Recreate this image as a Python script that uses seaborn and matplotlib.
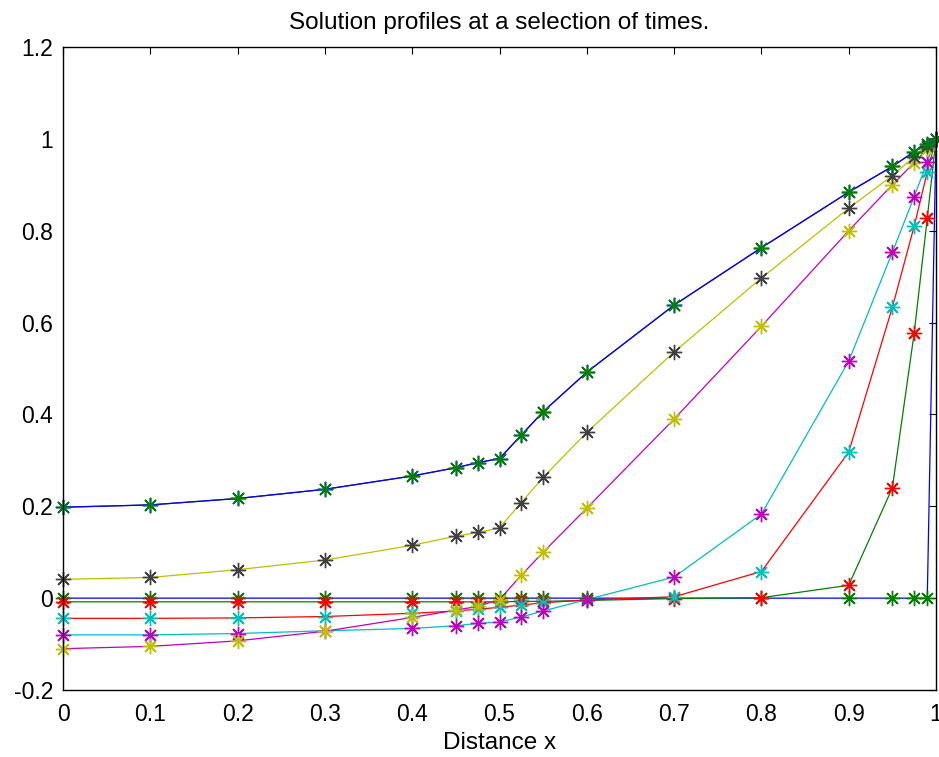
import numpy as np
import pandas as pd
import matplotlib
matplotlib.use('Agg')
import matplotlib.pyplot as plt
import seaborn as sns
from matplotlib.ticker import FuncFormatter

# malha em x e perfis da solucao em alguns instantes
x = [0, 0.1, 0.2, 0.3, 0.4, 0.45, 0.475, 0.5, 0.525, 0.55, 0.6, 0.7, 0.8, 0.9, 0.95, 0.975, 0.99, 1.0]

u1 = [0, 0, 0, 0, 0, 0, 0, 0, 0, 0, 0, 0, 0, 0, 0, 0, 0, 1.0]
u2 = [-0.008, -0.008, -0.008, -0.008, -0.008, -0.008, -0.008, -0.008, -0.007, -0.007,
      -0.005, -0.001, 0.001, 0.028, 0.240, 0.577, 0.827, 1.0]
u3 = [-0.044, -0.044, -0.043, -0.040, -0.033, -0.028, -0.024, -0.020, -0.015, -0.010,
      -0.004, 0.003, 0.058, 0.318, 0.633, 0.810, 0.928, 1.0]
u4 = [-0.080, -0.080, -0.077, -0.071, -0.066, -0.060, -0.055, -0.052, -0.041, -0.028,
      -0.003, 0.046, 0.183, 0.516, 0.753, 0.874, 0.950, 1.0]
u5 = [-0.110, -0.105, -0.093, -0.072, -0.042, -0.026, -0.018, -0.003, 0.050, 0.100,
      0.196, 0.390, 0.592, 0.800, 0.900, 0.948, 0.978, 1.0]
u6 = [0.041, 0.045, 0.062, 0.083, 0.115, 0.135, 0.143, 0.153, 0.208, 0.263,
      0.361, 0.536, 0.697, 0.849, 0.920, 0.961, 0.985, 1.0]
u7 = [0.198, 0.203, 0.217, 0.237, 0.266, 0.284, 0.295, 0.304, 0.355, 0.406,
      0.492, 0.638, 0.763, 0.884, 0.940, 0.972, 0.988, 1.0]
u8 = [0.198, 0.203, 0.217, 0.237, 0.266, 0.284, 0.295, 0.304, 0.355, 0.406,
      0.492, 0.638, 0.763, 0.884, 0.940, 0.972, 0.988, 1.0]

perfis = [u1, u2, u3, u4, u5, u6, u7, u8]

# ordem de cores padrao do MATLAB
cores = [(0, 0, 1), (0, 0.5, 0), (1, 0, 0), (0, 0.75, 0.75),
         (0.75, 0, 0.75), (0.75, 0.75, 0), (0.25, 0.25, 0.25)]

sns.set_style('white')
plt.rcParams['font.family'] = ['Liberation Sans', 'DejaVu Sans']
plt.rcParams['text.color'] = 'black'
plt.rcParams['axes.labelcolor'] = 'black'

fig = plt.figure(figsize=(9.39, 7.57), dpi=100)
ax = fig.add_axes([0.0671, 0.0885, 0.9297, 0.8494])

# primeiro as linhas, depois os asteriscos (cores deslocadas, como no MATLAB)
for i, u in enumerate(perfis):
    sns.lineplot(x=x, y=u, color=cores[i % 7], lw=0.9, ax=ax)
for i, u in enumerate(perfis):
    c = cores[(i + 1) % 7]
    sns.lineplot(x=x, y=u, color=c, linestyle='none', marker=(8, 2, 0),
                 markersize=11, markeredgewidth=1.0, markeredgecolor=c,
                 markerfacecolor=c, clip_on=False, ax=ax)

ax.set_xlim(0, 1)
ax.set_ylim(-0.2, 1.2)
ax.set_xticks(np.arange(0, 1.01, 0.1))
ax.set_yticks(np.arange(-0.2, 1.21, 0.2))
fmt = FuncFormatter(lambda v, p: ('%g' % round(v, 2)))
ax.xaxis.set_major_formatter(fmt)
ax.yaxis.set_major_formatter(fmt)
ax.tick_params(direction='in', length=5, width=0.8, labelsize=16.5, colors='black',
               top=True, right=True, pad=7)
ax.tick_params(axis='x', pad=9)
for s in ax.spines.values():
    s.set_visible(True)
    s.set_color('black')
    s.set_linewidth(1.0)

ax.set_title('Solution profiles at a selection of times.', fontsize=17.5, pad=13,
             color='black')
ax.set_xlabel('Distance x', fontsize=17.5, labelpad=5, color='black')
ax.set_ylabel('')

fig.savefig('out.png', dpi=100)
